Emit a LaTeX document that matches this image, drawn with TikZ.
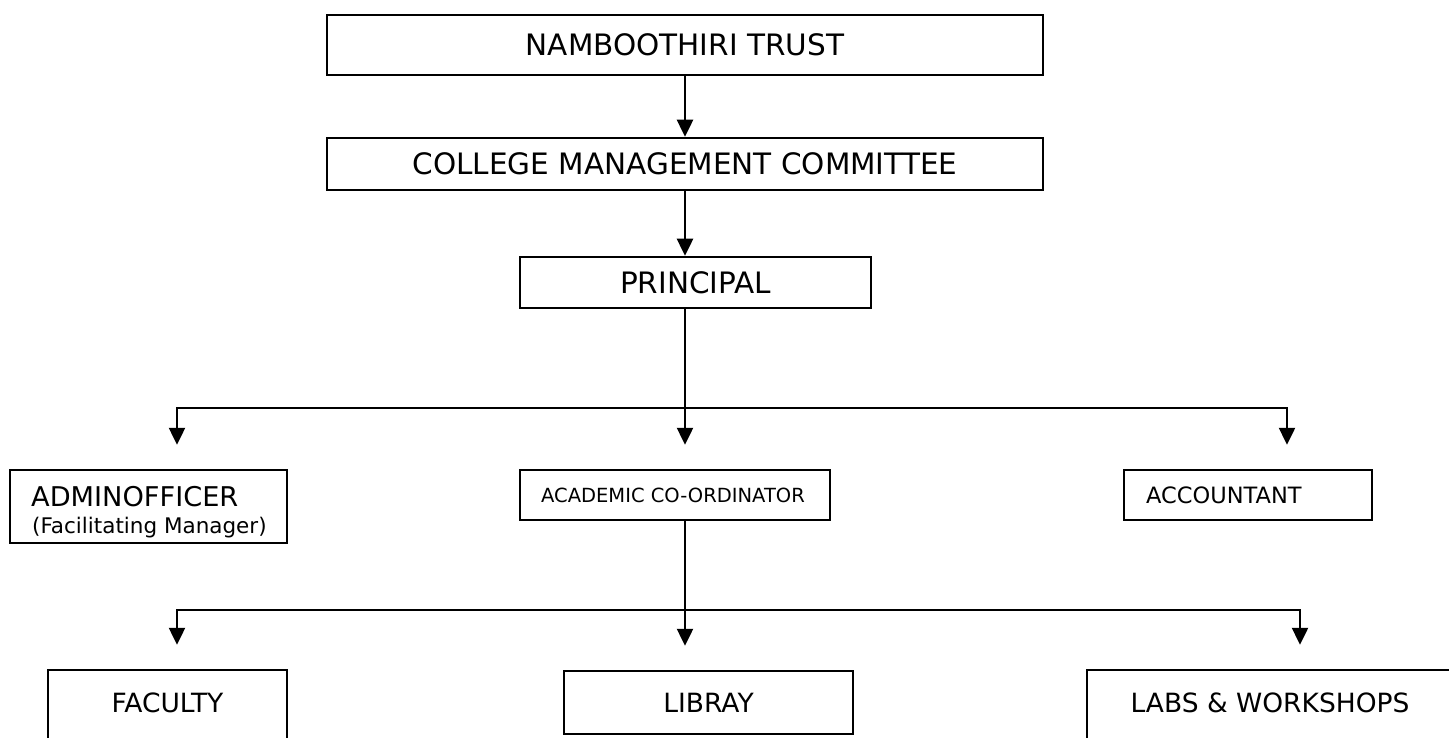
\documentclass[tikz,border=0pt]{standalone}
\usepackage{fontspec}
\setmainfont{DejaVu Sans}
\usetikzlibrary{arrows.meta}
\begin{document}
\begin{tikzpicture}[x=1pt,y=-1pt,
  box/.style={draw=black, line width=2.5pt, rectangle, inner sep=0pt, anchor=center},
  txt/.style={inner sep=0pt},
  arr/.style={-{Triangle[length=17pt,width=16pt]}, line width=2.5pt, line join=miter},
  ln/.style={line width=2.5pt},
  big/.style={font=\fontsize{29.5}{34}\selectfont},
  mid/.style={font=\fontsize{26.5}{30}\selectfont},
  small/.style={font=\fontsize{19.5}{23}\selectfont},
  tiny/.style={font=\fontsize{21.5}{24}\selectfont}]
\clip (0,0) rectangle (1449,738);
\fill[white] (0,0) rectangle (1449,738);
% top chain
\node[box, big, minimum width=716pt, minimum height=60pt] (trust) at (685,45) {NAMBOOTHIRI TRUST};
\node[box, big, minimum width=716pt, minimum height=52pt] (cmc) at (685,164) {COLLEGE MANAGEMENT COMMITTEE};
\node[box, big, minimum width=351pt, minimum height=51pt] (principal) at (695.5,282.5) {PRINCIPAL};
% middle level
\node[box, minimum width=277pt, minimum height=73pt] (admin) at (148.5,506.5) {};
\node[txt, font=\fontsize{27.2}{30}\selectfont, anchor=base west] (admint) at (31,506) {ADMINOFFICER};
\node[txt, tiny, anchor=base west] (admins) at (32,533) {(Facilitating Manager)};
\node[box, minimum width=310pt, minimum height=50pt] (acad) at (675,495) {};
\node[txt, small, anchor=base west] (acadt) at (541,502) {ACADEMIC CO-ORDINATOR};
\node[box, minimum width=248pt, minimum height=50pt] (acct) at (1248,495) {};
\node[txt, font=\fontsize{22.5}{26}\selectfont, anchor=base west] (acctt) at (1146,503) {ACCOUNTANT};
% bottom level
\node[box, minimum width=239pt, minimum height=90pt] (fac) at (167.5,715) {};
\node[txt, mid] (fact) at (167.5,703) {FACULTY};
\node[box, mid, minimum width=289pt, minimum height=63pt] (lib) at (708.5,702.5) {LIBRAY};
\node[box, minimum width=383pt, minimum height=90pt] (labs) at (1278.5,715) {};
\node[txt, mid] (labst) at (1270,703) {LABS \& WORKSHOPS};
% connectors
\coordinate (j1) at (685,408);
\coordinate (l1) at (177,408);
\coordinate (r1) at (1287,408);
\coordinate (j2) at (685,610);
\coordinate (l2) at (177,610);
\coordinate (r2) at (1300,610);
\draw[arr] (trust.south) -- (cmc.north);
\draw[arr] (cmc.south) -- (cmc.south |- principal.north);
\draw[ln] (j1 |- principal.south) -- (j1);
\draw[arr, shorten >=24pt] (j1) -- (l1) -- (l1 |- admin.north);
\draw[arr, shorten >=24pt] (j1) -- (r1) -- (r1 |- acct.north);
\draw[arr, shorten >=24pt] (j1) -- (j1 |- acad.north);
\draw[ln] (j2 |- acad.south) -- (j2);
\draw[arr, shorten >=24pt] (j2) -- (l2) -- (l2 |- fac.north);
\draw[arr, shorten >=24pt] (j2) -- (r2) -- (r2 |- labs.north);
\draw[arr, shorten >=24pt] (j2) -- (j2 |- lib.north);
\end{tikzpicture}
\end{document}
